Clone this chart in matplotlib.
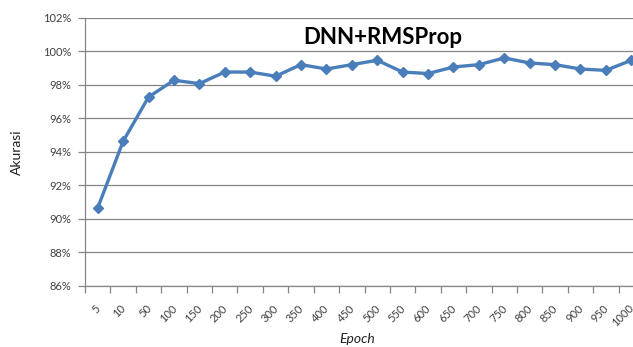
import matplotlib
matplotlib.use("Agg")
import matplotlib.pyplot as plt
import matplotlib.transforms as mtransforms
import numpy as np
from matplotlib.ticker import FixedLocator, FuncFormatter

epochs = ["5", "10", "50", "100", "150", "200", "250", "300", "350", "400", "450",
          "500", "550", "600", "650", "700", "750", "800", "850", "900", "950", "1000"]
accuracy = [90.65, 94.62, 97.26, 98.26, 98.06, 98.75, 98.75, 98.50, 99.19, 98.93, 99.19,
            99.45, 98.75, 98.66, 99.05, 99.19, 99.59, 99.29, 99.19, 98.93, 98.85, 99.45]
y_ticks = [86, 88, 90, 92, 94, 96, 98, 100, 102]

plt.rcParams["font.family"] = ["Lato", "DejaVu Sans"]

fig = plt.figure(figsize=(6.33, 3.47), dpi=100)
ax = fig.add_axes([85 / 633, 1 - 286 / 347, 559 / 633, 268.5 / 347])

grey = "#868686"
text_col = "#404040"
line_col = "#4A7EBB"

x = np.arange(len(epochs))
ax.plot(x, accuracy, color=line_col, lw=2.4, marker="D", markersize=5.5,
        markerfacecolor=line_col, markeredgecolor=line_col, zorder=3, clip_on=False)

ax.set_xlim(-0.5, len(epochs) - 0.5)
ax.set_ylim(y_ticks[0], y_ticks[-1])
ax.set_yticks(y_ticks)
ax.yaxis.set_major_formatter(FuncFormatter(lambda v, p: f"{v:.0f}%"))
ax.yaxis.grid(True, color=grey, lw=0.9)
ax.set_axisbelow(True)

# category boundaries carry the tick marks, centres carry the labels
ax.xaxis.set_major_locator(FixedLocator(np.arange(-0.5, len(epochs), 1.0)))
ax.xaxis.set_major_formatter(FuncFormatter(lambda v, p: ""))
ax.xaxis.set_minor_locator(FixedLocator(x))
ax.set_xticklabels(epochs, minor=True, rotation=45, ha="right", va="top",
                   fontsize=8, color=text_col)
ax.tick_params(axis="x", which="major", length=5, color=grey, width=0.9)
ax.tick_params(axis="x", which="minor", length=0, pad=12)
ax.tick_params(axis="y", length=5, color=grey, width=0.9, labelsize=8,
               labelcolor=text_col, pad=5)

shift = mtransforms.ScaledTranslation(5 / 100, 0, fig.dpi_scale_trans)
for lab in ax.get_xticklabels(minor=True):
    lab.set_transform(lab.get_transform() + shift)

for s in ("top", "right"):
    ax.spines[s].set_visible(False)
for s in ("left", "bottom"):
    ax.spines[s].set_color(grey)
    ax.spines[s].set_linewidth(0.9)

ax.set_ylabel("Akurasi", fontsize=10, color="#222222", labelpad=14)
fig.text(357 / 633, 1 - 339 / 347, "Epoch", fontsize=10, style="italic",
         color="#222222", ha="center", va="center")
fig.text(383 / 633, 1 - 38 / 347, "DNN+RMSProp", fontsize=16, fontweight="bold",
         color="black", ha="center", va="center")

fig.savefig("out.png", dpi=100)
